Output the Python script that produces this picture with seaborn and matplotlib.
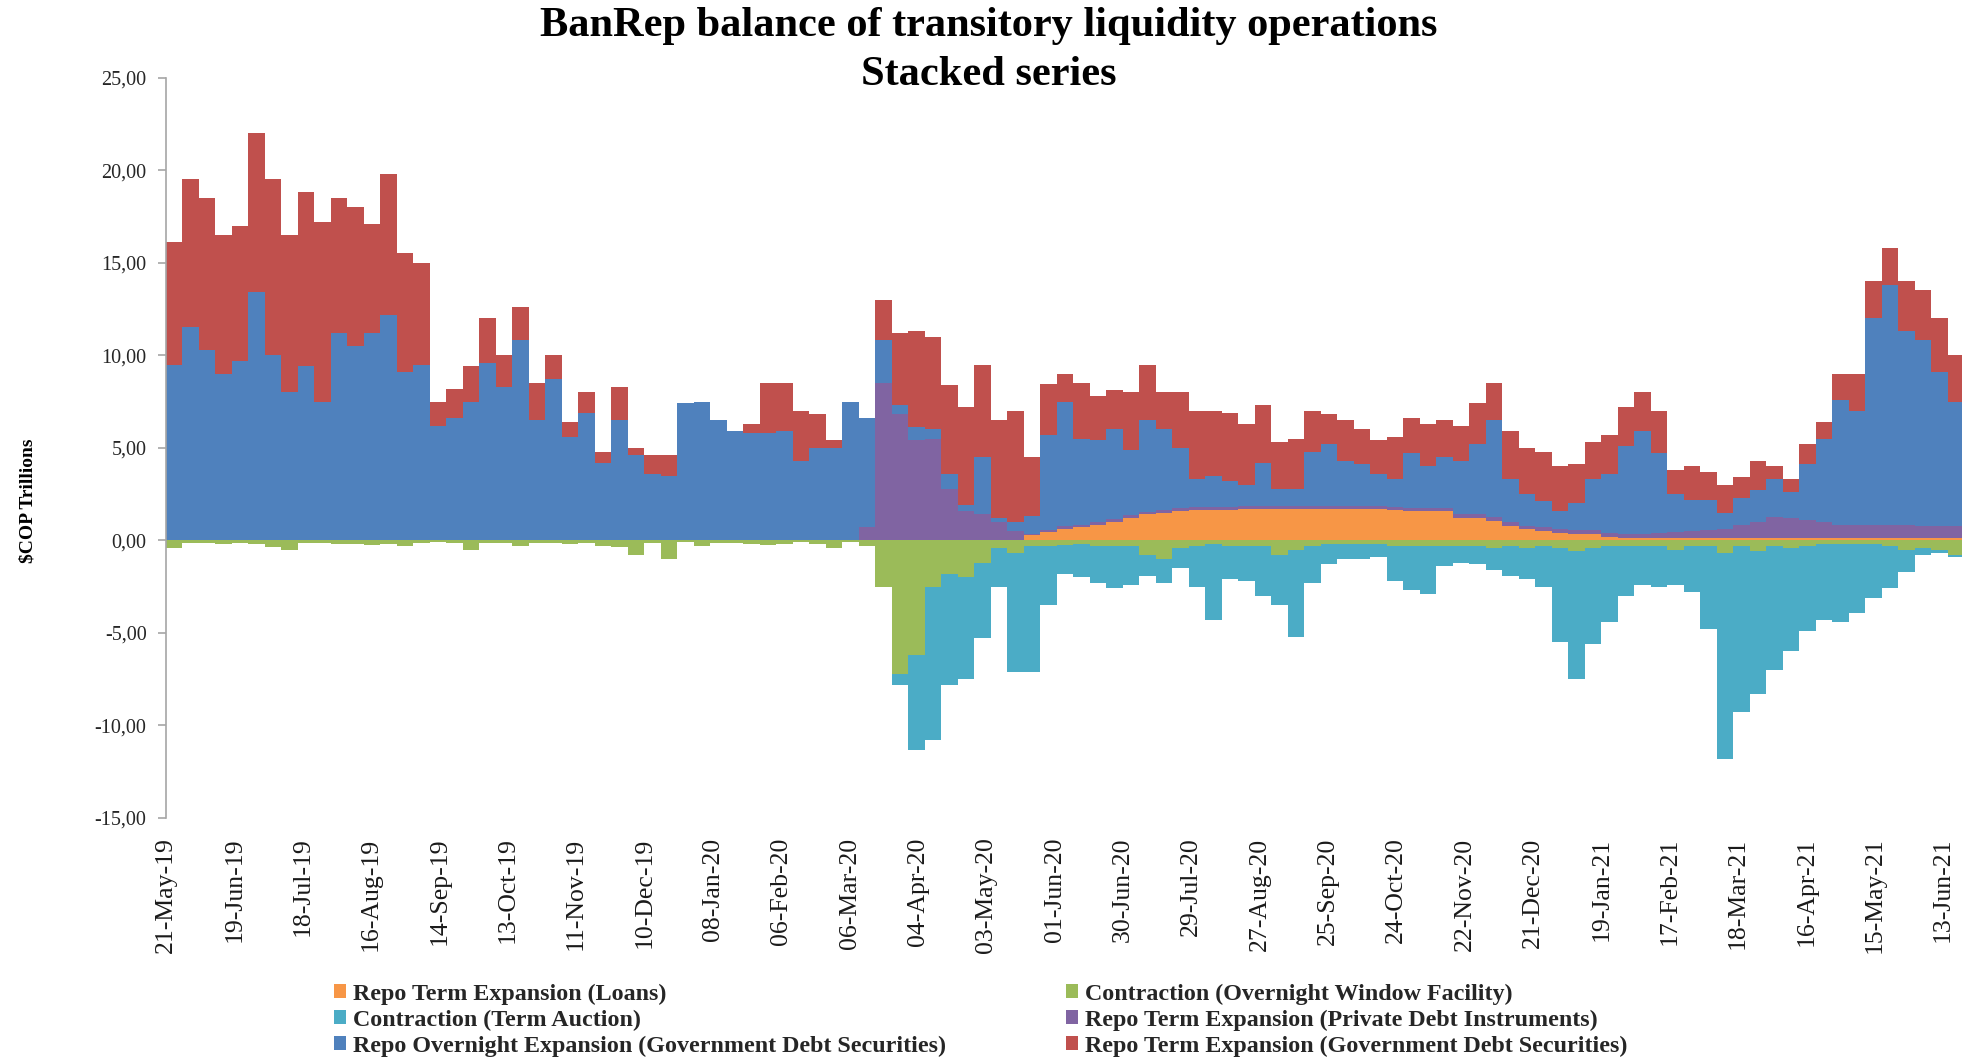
import numpy as np
import pandas as pd
import matplotlib
matplotlib.use("Agg")
import matplotlib.pyplot as plt
import matplotlib.dates as mdates
from matplotlib.patches import Patch
from matplotlib.ticker import FixedLocator, FuncFormatter
import seaborn as sns

# ---------------- data (weekly readings, $COP trillions) ----------------
START = "2019-05-21"
N_WEEKS = 109

loans = [
    0, 0, 0, 0, 0, 0, 0, 0, 0, 0,
    0, 0, 0, 0, 0, 0, 0, 0, 0, 0,
    0, 0, 0, 0, 0, 0, 0, 0, 0, 0,
    0, 0, 0, 0, 0, 0, 0, 0, 0, 0,
    0, 0, 0, 0, 0, 0, 0, 0, 0, 0,
    0, 0, 0.3, 0.45, 0.6, 0.7, 0.85, 1.0, 1.2, 1.4,
    1.5, 1.6, 1.65, 1.65, 1.65, 1.7, 1.7, 1.7, 1.7, 1.7,
    1.7, 1.7, 1.7, 1.7, 1.65, 1.6, 1.6, 1.6, 1.2, 1.2,
    1.05, 0.8, 0.6, 0.5, 0.4, 0.35, 0.35, 0.2, 0.1, 0.1,
    0.1, 0.1, 0.1, 0.1, 0.1, 0.1, 0.1, 0.1, 0.1, 0.1,
    0.1, 0.1, 0.1, 0.1, 0.1, 0.1, 0.1, 0.1, 0.1,
]

private_debt = [
    0, 0, 0, 0, 0, 0, 0, 0, 0, 0,
    0, 0, 0, 0, 0, 0, 0, 0, 0, 0,
    0, 0, 0, 0, 0, 0, 0, 0, 0, 0,
    0, 0, 0, 0, 0, 0, 0, 0, 0, 0,
    0, 0, 0.7, 8.5, 6.8, 5.4, 5.5, 2.8, 1.6, 1.4,
    1.0, 0.5, 0.05, 0.12, 0.15, 0.15, 0.15, 0.15, 0.15, 0.15,
    0.15, 0.15, 0.15, 0.15, 0.15, 0.15, 0.15, 0.15, 0.15, 0.15,
    0.15, 0.15, 0.15, 0.15, 0.15, 0.15, 0.15, 0.15, 0.2, 0.2,
    0.2, 0.2, 0.2, 0.2, 0.2, 0.2, 0.2, 0.2, 0.25, 0.25,
    0.3, 0.35, 0.4, 0.45, 0.5, 0.75, 0.9, 1.15, 1.1, 1.0,
    0.9, 0.75, 0.75, 0.75, 0.75, 0.75, 0.7, 0.7, 0.7,
]

overnight_gov = [
    9.45, 11.5, 10.3, 9.0, 9.7, 13.4, 10.0, 8.0, 9.4, 7.5,
    11.2, 10.5, 11.2, 12.2, 9.1, 9.5, 6.2, 6.6, 7.5, 9.6,
    8.3, 10.8, 6.5, 8.7, 5.6, 6.9, 4.2, 6.5, 4.6, 3.6,
    3.5, 7.4, 7.5, 6.5, 5.9, 5.8, 5.8, 5.9, 4.3, 5.0,
    5.0, 7.5, 5.9, 2.3, 0.5, 0.7, 0.5, 0.8, 0.3, 3.1,
    0.2, 0.5, 0.95, 5.1, 6.75, 4.65, 4.4, 4.85, 3.55, 4.95,
    4.35, 3.25, 1.5, 1.7, 1.4, 1.15, 2.35, 0.95, 0.95, 2.95,
    3.35, 2.45, 2.25, 1.75, 1.5, 2.95, 2.25, 2.75, 2.9, 3.8,
    5.25, 2.3, 1.7, 1.4, 1.0, 1.45, 2.75, 3.2, 4.75, 5.55,
    4.3, 2.05, 1.7, 1.65, 0.9, 1.45, 1.7, 2.05, 1.4, 3.0,
    4.5, 6.75, 6.15, 11.15, 12.95, 10.45, 10.0, 8.3, 6.7,
]

term_gov = [
    6.65, 8.0, 8.2, 7.5, 7.3, 8.6, 9.5, 8.5, 9.4, 9.7,
    7.3, 7.5, 5.9, 7.6, 6.4, 5.5, 1.3, 1.6, 1.9, 2.4,
    1.7, 1.8, 2.0, 1.3, 0.8, 1.1, 0.6, 1.8, 0.4, 1.0,
    1.1, 0, 0, 0, 0, 0.5, 2.7, 2.6, 2.7, 1.8,
    0.4, 0, 0, 2.2, 3.9, 5.2, 5.0, 4.8, 5.3, 5.0,
    5.3, 6.0, 3.2, 2.8, 1.5, 3.0, 2.4, 2.1, 3.1, 3.0,
    2.0, 3.0, 3.7, 3.5, 3.7, 3.3, 3.1, 2.5, 2.7, 2.2,
    1.6, 2.2, 1.9, 1.8, 2.3, 1.9, 2.3, 2.0, 1.9, 2.2,
    2.0, 2.6, 2.5, 2.7, 2.4, 2.1, 2.0, 2.1, 2.1, 2.1,
    2.3, 1.3, 1.8, 1.5, 1.5, 1.1, 1.6, 0.7, 0.7, 1.1,
    0.9, 1.4, 2.0, 2.0, 2.0, 2.7, 2.7, 2.9, 2.5,
]

overnight_window = [
    -0.4, -0.15, -0.15, -0.2, -0.15, -0.2, -0.35, -0.5, -0.15, -0.15,
    -0.2, -0.2, -0.25, -0.2, -0.3, -0.15, -0.1, -0.15, -0.5, -0.15,
    -0.15, -0.3, -0.15, -0.15, -0.2, -0.15, -0.3, -0.35, -0.8, -0.15,
    -1.0, -0.1, -0.3, -0.15, -0.15, -0.2, -0.25, -0.2, -0.1, -0.2,
    -0.4, -0.1, -0.3, -2.5, -7.2, -6.2, -2.5, -1.8, -2.0, -1.2,
    -0.4, -0.7, -0.3, -0.3, -0.25, -0.2, -0.3, -0.3, -0.3, -0.8,
    -1.0, -0.4, -0.3, -0.2, -0.3, -0.3, -0.3, -0.8, -0.5, -0.3,
    -0.2, -0.2, -0.2, -0.2, -0.3, -0.3, -0.3, -0.3, -0.3, -0.3,
    -0.4, -0.3, -0.4, -0.3, -0.4, -0.6, -0.4, -0.3, -0.3, -0.3,
    -0.3, -0.5, -0.3, -0.3, -0.7, -0.3, -0.6, -0.3, -0.4, -0.3,
    -0.2, -0.2, -0.2, -0.2, -0.3, -0.5, -0.4, -0.5, -0.8,
]

term_auction = [
    0, 0, 0, 0, 0, 0, 0, 0, 0, 0,
    0, 0, 0, 0, 0, 0, 0, 0, 0, 0,
    0, 0, 0, 0, 0, 0, 0, 0, 0, 0,
    0, 0, 0, 0, 0, 0, 0, 0, 0, 0,
    0, 0, 0, 0, -0.6, -5.1, -8.3, -6.0, -5.5, -4.1,
    -2.1, -6.4, -6.8, -3.2, -1.55, -1.8, -2.0, -2.3, -2.1, -1.1,
    -1.3, -1.1, -2.2, -4.1, -1.8, -1.9, -2.7, -2.7, -4.7, -2.0,
    -1.1, -0.8, -0.8, -0.7, -1.9, -2.4, -2.6, -1.1, -0.9, -1.0,
    -1.2, -1.6, -1.7, -2.2, -5.1, -6.9, -5.2, -4.1, -2.7, -2.1,
    -2.2, -1.9, -2.5, -4.5, -11.1, -9.0, -7.7, -6.7, -5.6, -4.6,
    -4.1, -4.2, -3.7, -2.9, -2.3, -1.2, -0.4, -0.2, -0.1,
]

L_LOANS = "Repo Term Expansion (Loans)"
L_WINDOW = "Contraction (Overnight Window Facility)"
L_AUCTION = "Contraction (Term Auction)"
L_PRIVATE = "Repo Term Expansion (Private Debt Instruments)"
L_ON_GOV = "Repo Overnight Expansion (Government Debt Securities)"
L_TERM_GOV = "Repo Term Expansion (Government Debt Securities)"

COLORS = {
    L_LOANS: "#F79646",
    L_WINDOW: "#9BBB59",
    L_AUCTION: "#4BACC6",
    L_PRIVATE: "#8064A2",
    L_ON_GOV: "#4F81BD",
    L_TERM_GOV: "#C0504D",
}

TICK_START = "2019-05-21"
N_TICKS = 27
Y_TICKS = [-15, -10, -5, 0, 5, 10, 15, 20, 25]

# ---------------- figure ----------------
sns.set_theme(style="white")
plt.rcParams["font.family"] = ["Liberation Serif", "DejaVu Serif"]

fig = plt.figure(figsize=(19.62, 10.58), dpi=100)
ax = fig.add_axes([166 / 1962, 240 / 1058, 1 - 166 / 1962, (818 - 77.6) / 1058])

edges = mdates.date2num(pd.date_range(START, periods=N_WEEKS + 1, freq="7D"))
centers = (edges[:-1] + edges[1:]) / 2.0
bin_edges = [float(e) for e in edges]

pos = pd.DataFrame({
    "x": np.tile(centers, 4),
    "v": np.concatenate([loans, private_debt, overnight_gov, term_gov]).astype(float),
    "s": np.repeat([L_LOANS, L_PRIVATE, L_ON_GOV, L_TERM_GOV], N_WEEKS),
})
neg = pd.DataFrame({
    "x": np.tile(centers, 2),
    "v": np.concatenate([overnight_window, term_auction]).astype(float),
    "s": np.repeat([L_WINDOW, L_AUCTION], N_WEEKS),
})

sns.histplot(data=pos, x="x", weights="v", hue="s",
             hue_order=[L_TERM_GOV, L_ON_GOV, L_PRIVATE, L_LOANS],
             palette=COLORS, bins=bin_edges, multiple="stack", element="step",
             fill=True, alpha=1, linewidth=0, legend=False, ax=ax)
sns.histplot(data=neg, x="x", weights="v", hue="s",
             hue_order=[L_AUCTION, L_WINDOW],
             palette=COLORS, bins=bin_edges, multiple="stack", element="step",
             fill=True, alpha=1, linewidth=0, legend=False, ax=ax)

x0 = mdates.date2num(pd.Timestamp(START))
ax.set_xlim(x0, x0 + 762)
ax.set_ylim(-15, 25)

tick_dates = mdates.date2num(pd.date_range(TICK_START, periods=N_TICKS, freq="29D"))
ax.xaxis.set_major_locator(FixedLocator(tick_dates))
ax.xaxis.set_major_formatter(mdates.DateFormatter("%d-%b-%y"))
ax.yaxis.set_major_locator(FixedLocator(Y_TICKS))
ax.yaxis.set_major_formatter(FuncFormatter(lambda v, _: f"{v:.2f}".replace(".", ",")))

ax.tick_params(axis="x", length=0, pad=14, labelsize=18.5, labelrotation=90,
               labelcolor="#1a1a1a")
ax.tick_params(axis="y", left=True, length=6, width=1.2, color="#A6A6A6",
               pad=8, labelsize=14.5, labelcolor="#262626", direction="out")
ax.set_xlabel("")
ax.set_ylabel("")
ax.grid(False)
sns.despine(ax=ax, top=True, right=True, bottom=True)
ax.spines["left"].set_color("#A6A6A6")
ax.spines["left"].set_linewidth(1.2)
ax.set_facecolor("white")

fig.text(0.504, 0.9525, "BanRep balance of transitory liquidity operations\nStacked series",
         ha="center", va="center", fontsize=30.5, fontweight="bold",
         linespacing=1.38, color="black")
fig.text(28 / 1962, 0.527, r"\$COP Trillions", rotation=90, ha="center", va="center",
         fontsize=14, fontweight="bold", color="black")

col1 = [L_LOANS, L_AUCTION, L_ON_GOV]
col2 = [L_WINDOW, L_PRIVATE, L_TERM_GOV]
for names, xpos in ((col1, 334 / 1962), (col2, 1066 / 1962)):
    handles = [Patch(facecolor=COLORS[n], edgecolor="none", label=n) for n in names]
    fig.legend(handles=handles, loc="upper left", bbox_to_anchor=(xpos, 1 - 983.5 / 1058),
               frameon=False, prop={"weight": "bold", "size": 17.3},
               handlelength=0.52, handleheight=0.52, handletextpad=0.25,
               labelspacing=0.2, borderpad=0, borderaxespad=0)

fig.savefig("out.png", dpi=100, facecolor="white")
